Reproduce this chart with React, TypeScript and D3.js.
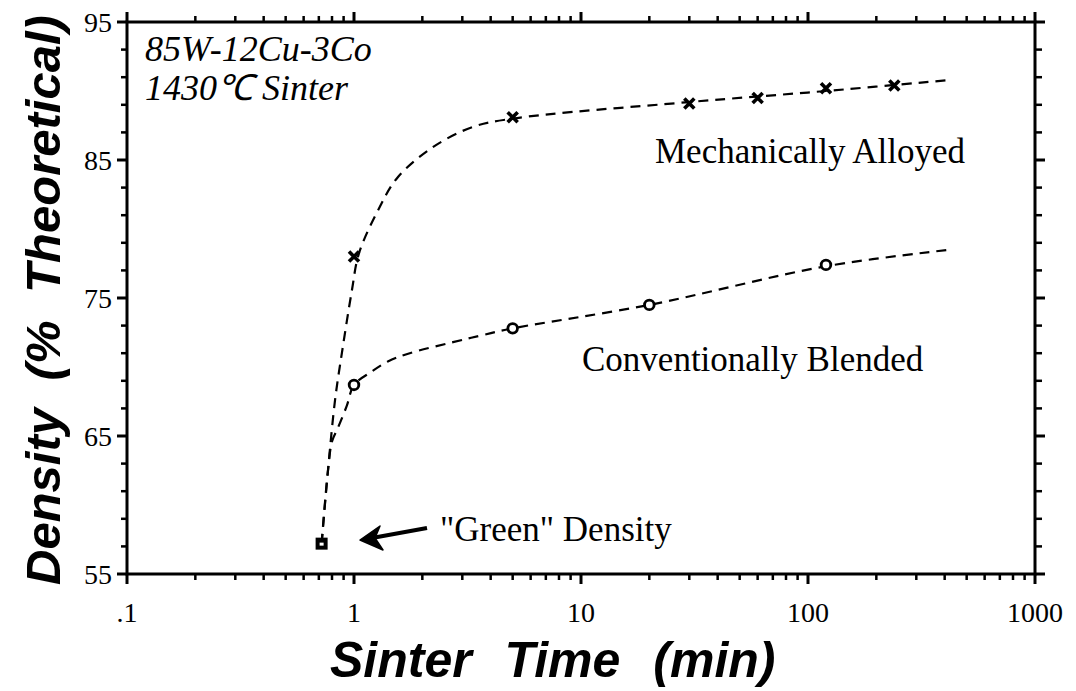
import React from "react";
import * as d3 from "d3";

const width = 1076;
const height = 691;
const margin = { left: 127, right: 41, top: 22, bottom: 117 };

// measured points
const maTimes = [1, 5, 30, 60, 120, 240];
const maDensity = [78.0, 88.1, 89.1, 89.5, 90.2, 90.4];
const cbTimes = [1, 5, 20, 120];
const cbDensity = [68.7, 72.8, 74.5, 77.4];
const greenTime = 0.72;
const greenDensity = 57.2;

// hand-drawn trend curves
const maFitTimes = [0.72, 0.768, 0.825, 0.886, 0.98, 1.05, 1.28, 1.55, 2.21, 3.34, 5, 30, 120, 423];
const maFitDensity = [57.2, 62.5, 67.6, 71.1, 75.6, 78.2, 81.4, 83.7, 85.9, 87.4, 88.0, 89.2, 90.0, 90.8];
const cbFitTimes = [0.72, 0.768, 0.8, 0.85, 0.93, 1.0, 1.18, 1.41, 1.76, 2.73, 3.66, 5, 20, 120, 423];
const cbFitDensity = [57.2, 62.5, 64.6, 65.6, 67.2, 68.7, 69.6, 70.4, 71.0, 71.8, 72.3, 72.8, 74.5, 77.3, 78.5];

const xMajor = [0.1, 1, 10, 100, 1000];
const xLabels = [".1", "1", "10", "100", "1000"];
const yMajor = [55, 65, 75, 85, 95];

const serif = "'Liberation Serif', 'Times New Roman', serif";
const sans = "'Liberation Sans', Arial, sans-serif";

const App = () => {
  const x = d3
    .scaleLog()
    .domain([0.1, 1000])
    .range([margin.left, width - margin.right]);
  const y = d3
    .scaleLinear()
    .domain([55, 95])
    .range([height - margin.bottom, margin.top]);

  const x0 = x.range()[0];
  const x1 = x.range()[1];
  const y0 = y.range()[0];
  const y1 = y.range()[1];

  const xMinor: number[] = [];
  [0.1, 1, 10, 100].forEach((dec) => {
    for (let k = 2; k <= 9; k++) xMinor.push(dec * k);
  });
  const yMinor = d3.range(55, 95, 2).filter((v) => !yMajor.includes(v));

  const line = d3
    .line<[number, number]>()
    .x((d) => x(d[0]))
    .y((d) => y(d[1]))
    .curve(d3.curveCatmullRom.alpha(0.5));

  const maPath = line(maFitTimes.map((t, i) => [t, maFitDensity[i]]));
  const cbPath = line(cbFitTimes.map((t, i) => [t, cbFitDensity[i]]));

  const gx = x(greenTime);
  const gy = y(greenDensity);

  return (
    <svg width={width} height={height} style={{ display: "block", position: "absolute", left: 0, top: 0 }}>
      <rect width={width} height={height} fill="#fff" />

      {/* trend curves */}
      <path d={maPath || ""} fill="none" stroke="#000" strokeWidth={2.2} strokeDasharray="10 7" />
      <path d={cbPath || ""} fill="none" stroke="#000" strokeWidth={2.2} strokeDasharray="10 7" />

      {/* frame */}
      <rect x={x0} y={y1} width={x1 - x0} height={y0 - y1} fill="none" stroke="#000" strokeWidth={3} />

      {/* x ticks, bottom and top */}
      {xMajor.map((v, i) => (
        <g key={"xM" + v}>
          <line x1={x(v)} x2={x(v)} y1={y0} y2={y0 + 10} stroke="#000" strokeWidth={3} />
          <line x1={x(v)} x2={x(v)} y1={y1} y2={y1 - 10} stroke="#000" strokeWidth={3} />
          <text x={x(v)} y={y0 + 48} textAnchor="middle" fontFamily={serif} fontSize={28}>
            {xLabels[i]}
          </text>
        </g>
      ))}
      {xMinor.map((v) => (
        <g key={"xm" + v}>
          <line x1={x(v)} x2={x(v)} y1={y0} y2={y0 + 6} stroke="#000" strokeWidth={2.5} />
          <line x1={x(v)} x2={x(v)} y1={y1} y2={y1 - 6} stroke="#000" strokeWidth={2.5} />
        </g>
      ))}

      {/* y ticks, left and right */}
      {yMajor.map((v) => (
        <g key={"yM" + v}>
          <line x1={x0} x2={x0 - 10} y1={y(v)} y2={y(v)} stroke="#000" strokeWidth={3} />
          <line x1={x1} x2={x1 + 10} y1={y(v)} y2={y(v)} stroke="#000" strokeWidth={3} />
          <text x={x0 - 15} y={y(v) + 10} textAnchor="end" fontFamily={serif} fontSize={28}>
            {v}
          </text>
        </g>
      ))}
      {yMinor.map((v) => (
        <g key={"ym" + v}>
          <line x1={x0} x2={x0 - 6} y1={y(v)} y2={y(v)} stroke="#000" strokeWidth={2.5} />
          <line x1={x1} x2={x1 + 7} y1={y(v)} y2={y(v)} stroke="#000" strokeWidth={2.5} />
        </g>
      ))}

      {/* mechanically alloyed markers */}
      {maTimes.map((t, i) => {
        const cx = x(t);
        const cy = y(maDensity[i]);
        const s = 5;
        return (
          <path
            key={"ma" + t}
            d={`M${cx - s},${cy - s}L${cx + s},${cy + s}M${cx - s},${cy + s}L${cx + s},${cy - s}`}
            stroke="#000"
            strokeWidth={3.6}
          />
        );
      })}

      {/* conventionally blended markers */}
      {cbTimes.map((t, i) => (
        <circle key={"cb" + t} cx={x(t)} cy={y(cbDensity[i])} r={4.8} fill="#fff" stroke="#000" strokeWidth={2.8} />
      ))}

      {/* green density */}
      <rect x={gx - 6} y={gy - 6} width={12} height={12} fill="#000" />
      <rect x={gx - 2} y={gy - 1} width={4} height={3} fill="#fff" />

      {/* arrow */}
      <line x1={427} y1={528} x2={372} y2={538} stroke="#000" strokeWidth={4} />
      <path d="M360,540 L380,526 L375,538 L383,550 Z" fill="#000" stroke="#000" strokeWidth={1.5} strokeLinejoin="round" />

      {/* annotations */}
      <text x={440} y={541} fontFamily={serif} fontSize={35}>
        "Green" Density
      </text>
      <text x={655} y={163} fontFamily={serif} fontSize={35}>
        Mechanically Alloyed
      </text>
      <text x={582} y={371} fontFamily={serif} fontSize={35}>
        Conventionally Blended
      </text>
      <text x={145} y={61} fontFamily={serif} fontStyle="italic" fontSize={36}>
        85W-12Cu-3Co
      </text>
      <text x={145} y={100} fontFamily={serif} fontStyle="italic" fontSize={36}>
        1430℃ Sinter
      </text>

      {/* axis titles */}
      <text
        x={330}
        y={677}
        fontFamily={sans}
        fontWeight="bold"
        fontStyle="italic"
        fontSize={50}
        style={{ wordSpacing: "19px" }}
      >
        Sinter Time (min)
      </text>
      <text
        transform="translate(60,585) rotate(-90)"
        fontFamily={sans}
        fontWeight="bold"
        fontStyle="italic"
        fontSize={49}
        style={{ wordSpacing: "14px" }}
      >
        Density (% Theoretical)
      </text>
    </svg>
  );
};

export default App;
